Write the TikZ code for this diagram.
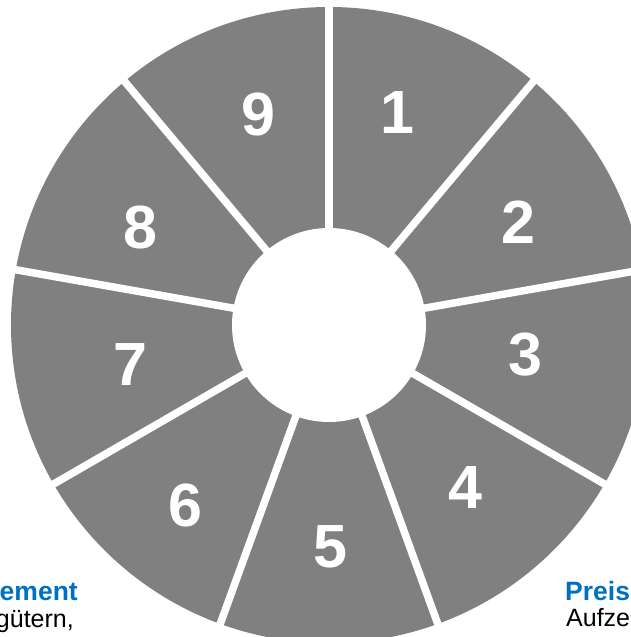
\documentclass[tikz,border=0pt]{standalone}
\usepackage{fontspec}
\setmainfont{Liberation Sans}
\definecolor{wheelgray}{RGB}{128,128,128}
\definecolor{titleblue}{RGB}{0,112,192}
\begin{document}
\begin{tikzpicture}[x=1pt,y=1pt,line join=round]
\tikzset{num/.style={text=white,font=\fontsize{61}{61}\selectfont\bfseries},
  head/.style={text=titleblue,font=\fontsize{26.5}{26.5}\selectfont\bfseries,inner sep=0pt},
  body/.style={font=\fontsize{25}{25}\selectfont,inner sep=0pt}}
\useasboundingbox (-329,-312) rectangle (302,325);
\coordinate (c) at (0,0);
\fill[wheelgray] (c) circle (318);
\foreach \a in {90,50,...,-230}
  \draw[white,line width=7.5] (c)--(\a:330);
\fill[white] (c) circle (97);
\foreach \n/\x/\y in {1/68/212,2/189/103,3/196/-30,4/136/-163,5/1/-222,6/-144/-180,7/-199/-40,8/-189/97,9/-71/210}
  \node[num] (n\n) at (\x,\y) {\n};
\node[head,anchor=base east] (h1) at (-251,-275) {ement};
\node[body,anchor=base east] (b1) at (-255,-302) {gütern,};
\node[head,anchor=base west] (h2) at (236,-275) {Preis};
\node[body,anchor=base west] (b2) at (237,-301) {Aufze};
\end{tikzpicture}
\end{document}
